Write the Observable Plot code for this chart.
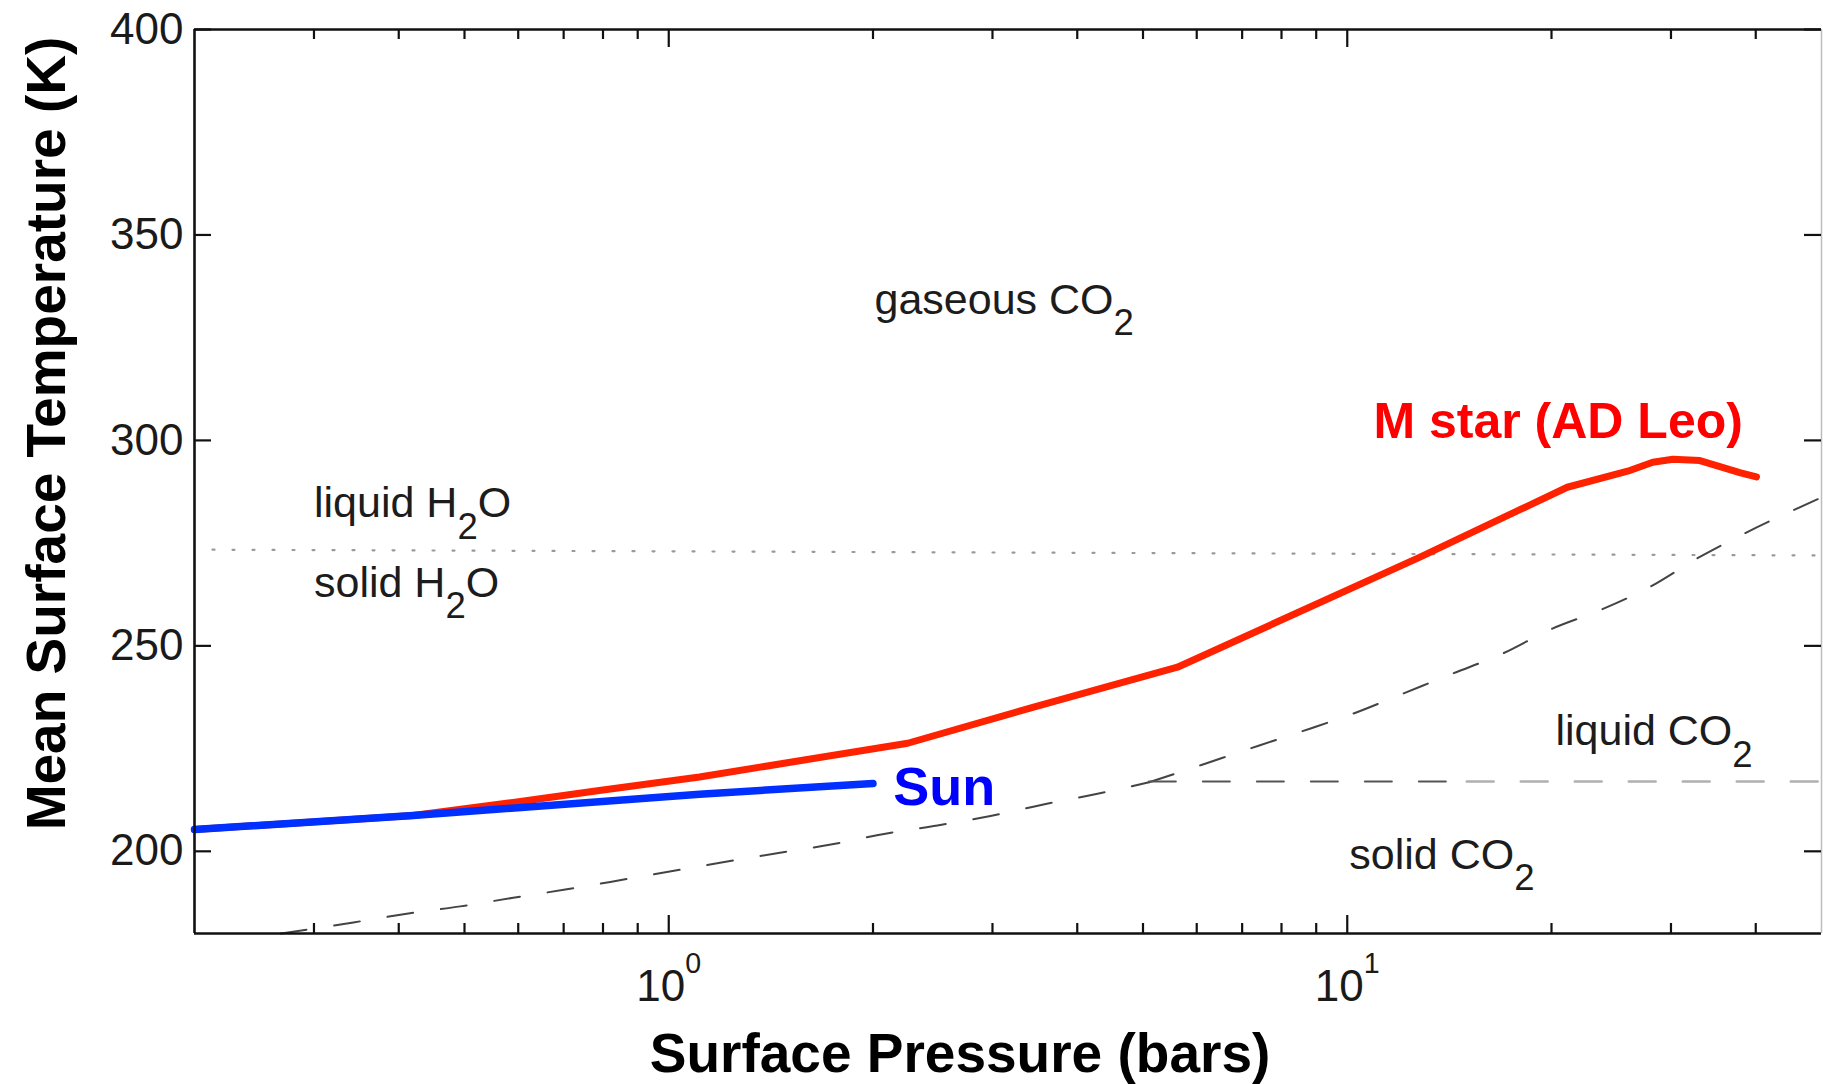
<!DOCTYPE html>
<html>
<head>
<meta charset="utf-8">
<script src="https://cdn.jsdelivr.net/npm/d3@7"></script>
<script src="https://cdn.jsdelivr.net/npm/@observablehq/plot@0.6"></script>
<style>
  html, body { margin: 0; padding: 0; background: #fff; }
  #chart svg { display: block; }
</style>
</head>
<body>
<div id="chart"></div>
<script>
// Mean surface temperature (K) against surface pressure (bar), CO2 atmospheres.

// Planet heated by an M star (AD Leo)
const mStarP = [0.2, 0.42, 0.59, 0.79, 1.11, 2.25, 3.45, 5.62, 12.8, 18.0, 21.1, 25.9, 28.2, 30.2, 33.1, 38.0, 40.1];
const mStarT = [205.3, 208.7, 211.9, 214.8, 218.1, 226.3, 235.1, 244.8, 271.6, 283.2, 288.6, 292.5, 294.7, 295.4, 295.1, 292.1, 291.1];

// Planet heated by the Sun
const sunP = [0.2, 0.42, 1.11, 2.0];
const sunT = [205.3, 208.7, 213.9, 216.5];

// CO2 sublimation curve (solid / gas)
const sublimP = [0.268, 0.343, 0.411, 0.493, 0.59, 0.704, 0.843, 1.013, 1.451, 1.742, 2.086, 2.489, 2.98, 3.566, 4.285, 5.1];
const sublimT = [180, 182.7, 184.8, 186.6, 188.7, 190.7, 192.9, 195.2, 199.6, 201.7, 204.3, 206.3, 208.6, 211.4, 214.0, 216.8];

// CO2 vaporisation curve (liquid / gas)
const vaporP = [5.1, 5.87, 6.22, 7.40, 8.83, 10.2, 12.09, 14.33, 16.93, 20.06, 23.6, 27.97, 32.8, 37.6, 50];
const vaporT = [216.8, 220.1, 221.5, 225.7, 229.9, 233.5, 238.4, 243.3, 248.1, 254.2, 258.7, 264.4, 271.3, 276.5, 286.1];

// CO2 melting line (solid / liquid), darker near the triple point
const meltP = [5.1, 15, 50];
const meltT = [217.0, 217.0, 217.0];

// H2O freezing line
const waterP = [0.2126, 50];
const waterT = [273.4, 272.0];

// Phase-region labels ("_" marks a subscript)
const regionText = ["gaseous CO_2", "liquid H_2O", "solid H_2O", "liquid CO_2", "solid CO_2"];
const regionP = [2.01, 0.3, 0.3, 20.27, 10.07];
const regionT = [330.8, 281.3, 261.9, 225.8, 195.8];

// Series labels
const seriesText = ["M star (AD Leo)", "Sun"];
const seriesP = [10.93, 2.143];
const seriesT = [300.6, 211.2];
const seriesColor = ["#ff0000", "#0000ff"];
const seriesSize = [50, 54];

// Axes
const yTicks = [200, 250, 300, 350, 400];
const xMajor = [1, 10];
const xMinor = [0.3, 0.4, 0.5, 0.6, 0.7, 0.8, 0.9, 2, 3, 4, 5, 6, 7, 8, 9, 20, 30, 40];
const xTitle = "Surface Pressure (bars)";
const yTitle = "Mean Surface Temperature (K)";

// ---------------------------------------------------------------
const W = 1823, H = 1084;
const margin = {top: 29, right: 2, bottom: 151, left: 194};
const frameW = W - margin.left - margin.right;
const frameH = H - margin.top - margin.bottom;
const majorLen = 18, minorLen = 10, yTickLen = 17;
const tickStroke = "#111", tickWidth = 2.2;

const rows = (P, T) => P.map((p, i) => ({p, t: T[i]}));
const regions = regionText.map((s, i) => ({s, p: regionP[i], t: regionT[i]}));
const series = seriesText.map((s, i) => ({s, p: seriesP[i], t: seriesT[i], c: seriesColor[i], f: seriesSize[i]}));

const dashedGrey = {stroke: "#444", strokeWidth: 2, strokeDasharray: "26,28"};

const chart = Plot.plot({
  width: W,
  height: H,
  marginTop: margin.top,
  marginRight: margin.right,
  marginBottom: margin.bottom,
  marginLeft: margin.left,
  x: {type: "log", domain: [0.2, 50]},
  y: {domain: [180, 400]},
  style: {fontFamily: "'Liberation Sans', Arial, Helvetica, sans-serif", background: "#fff", color: "#1a1a1a", overflow: "visible"},
  marks: [
    // water freezing
    Plot.line(rows(waterP, waterT), {x: "p", y: "t", stroke: "#9a9a9a", strokeWidth: 2.2, strokeDasharray: "2,18"}),
    // CO2 phase boundaries
    Plot.line(rows(sublimP, sublimT), {x: "p", y: "t", ...dashedGrey, curve: "monotone-x"}),
    Plot.line(rows(vaporP, vaporT), {x: "p", y: "t", ...dashedGrey, curve: "monotone-x"}),
    Plot.line(rows(meltP.slice(0, 2), meltT.slice(0, 2)), {x: "p", y: "t", stroke: "#555", strokeWidth: 2, strokeDasharray: "27,27"}),
    Plot.line(rows(meltP.slice(1), meltT.slice(1)), {x: "p", y: "t", stroke: "#b0b0b0", strokeWidth: 2.4, strokeDasharray: "27,27"}),
    // temperature curves
    Plot.line(rows(mStarP, mStarT), {x: "p", y: "t", stroke: "#ff2200", strokeWidth: 7, strokeLinejoin: "round"}),
    Plot.line(rows(sunP, sunT), {x: "p", y: "t", stroke: "#0030ff", strokeWidth: 7.5}),
    // labels
    Plot.text(regions, {x: "p", y: "t", text: "s", textAnchor: "start", lineAnchor: "bottom", fontSize: 43, fill: "#1c1c1c"}),
    Plot.text(series, {x: "p", y: "t", text: "s", textAnchor: "start", lineAnchor: "bottom", fontSize: d => d.f, fontWeight: "bold", fill: d => d.c}),
    // box
    Plot.ruleY([180], {stroke: "#111", strokeWidth: 2.6}),
    Plot.ruleY([400], {stroke: "#111", strokeWidth: 2.6}),
    Plot.ruleX([0.2], {stroke: "#111", strokeWidth: 2.6}),
    Plot.ruleX([50], {stroke: "#bdbdbd", strokeWidth: 1.5}),
    // inward ticks on all four sides
    Plot.tickX(xMajor, {x: d => d, insetTop: frameH - majorLen, stroke: tickStroke, strokeWidth: tickWidth}),
    Plot.tickX(xMajor, {x: d => d, insetBottom: frameH - majorLen, stroke: tickStroke, strokeWidth: tickWidth}),
    Plot.tickX(xMinor, {x: d => d, insetTop: frameH - minorLen, stroke: tickStroke, strokeWidth: tickWidth}),
    Plot.tickX(xMinor, {x: d => d, insetBottom: frameH - minorLen, stroke: tickStroke, strokeWidth: tickWidth}),
    Plot.tickY(yTicks, {y: d => d, insetRight: frameW - yTickLen, stroke: tickStroke, strokeWidth: tickWidth}),
    Plot.tickY(yTicks, {y: d => d, insetLeft: frameW - yTickLen, stroke: tickStroke, strokeWidth: tickWidth}),
    // tick labels
    Plot.axisY({ticks: yTicks, tickSize: 0, tickPadding: 11, fontSize: 44, label: null}),
    Plot.axisX({ticks: xMajor, tickSize: 0, tickPadding: 36, fontSize: 44, label: null, tickFormat: d => "10^" + Math.round(Math.log10(d))}),
    // axis titles
    Plot.text([xTitle], {text: d => d, frameAnchor: "bottom", dx: -48, dy: 138, lineAnchor: "bottom", textAnchor: "middle", fontSize: 55, fontWeight: "bold", fill: "#000"}),
    Plot.text([yTitle], {text: d => d, frameAnchor: "left", rotate: -90, dx: -130, dy: -48, lineAnchor: "bottom", textAnchor: "middle", fontSize: 55, fontWeight: "bold", fill: "#000"})
  ]
});

document.getElementById("chart").append(chart);

// Turn "_n" into subscripts and "^n" into superscripts.
d3.select(chart).selectAll("text").each(function () {
  const el = d3.select(this);
  if (!el.selectAll("tspan").empty()) return;
  const s = el.text();
  const re = /([_^])(\d)/g;
  const segs = [];
  let last = 0, m;
  while ((m = re.exec(s))) {
    if (m.index > last) segs.push({t: s.slice(last, m.index), k: ""});
    segs.push({t: m[2], k: m[1]});
    last = re.lastIndex;
  }
  if (!segs.length) return;
  if (last < s.length) segs.push({t: s.slice(last), k: ""});
  const fs = parseFloat(getComputedStyle(this).fontSize) || 44;
  el.text(null);
  let shift = 0;
  for (const seg of segs) {
    const target = seg.k === "_" ? 0.5 * fs : seg.k === "^" ? -0.62 * fs : 0;
    const sp = el.append("tspan").text(seg.t).attr("dy", (target - shift) + "px");
    if (seg.k === "_") sp.attr("font-size", (0.85 * fs) + "px");
    if (seg.k === "^") sp.attr("font-size", (0.65 * fs) + "px");
    shift = target;
  }
});
</script>
</body>
</html>
